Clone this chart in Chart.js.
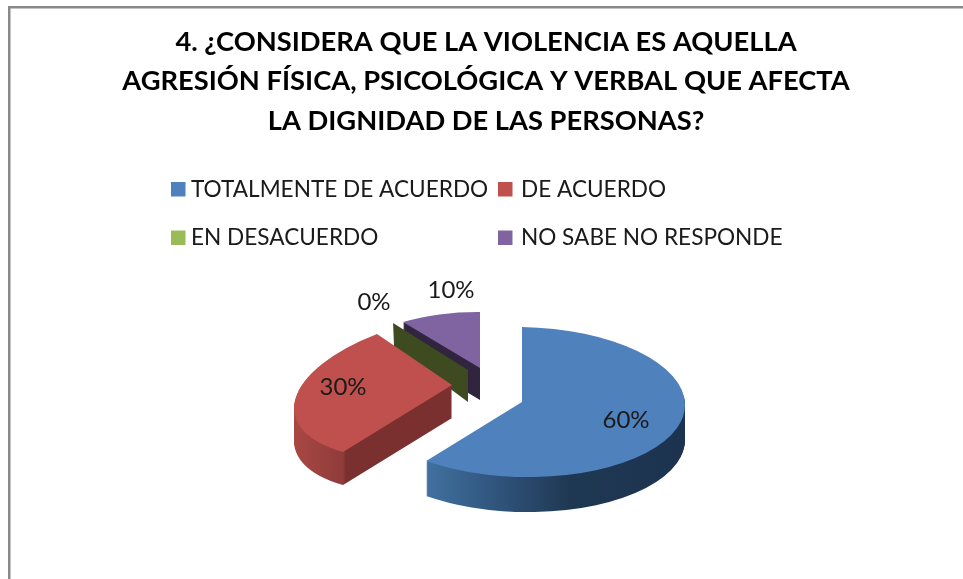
<!DOCTYPE html>
<html><head><meta charset="utf-8">
<style>html,body{margin:0;padding:0;background:#fff}canvas{display:block}</style>
<script src="https://cdn.jsdelivr.net/npm/chart.js@4"></script></head>
<body><canvas id="c" width="963" height="579"></canvas>
<script>
const titleLines = ['4. ¿CONSIDERA QUE LA VIOLENCIA ES AQUELLA','AGRESIÓN FÍSICA, PSICOLÓGICA Y VERBAL QUE AFECTA','LA DIGNIDAD DE LAS PERSONAS?'];
const categories = ['TOTALMENTE DE ACUERDO','DE ACUERDO','EN DESACUERDO','NO SABE NO RESPONDE'];
const values = [60,30,0,10];
const colors = ['#4F81BD','#C0504D','#9BBB59','#8064A2'];

const FONT = 'Lato';
const R = 100;
// 3D look of each slice: where its apex lands and how its circle is flattened.
const apex = [[522,402],[452,385],[468,370],[480,368]];
const flatten = [[163,3,0,75],[156.5,-13.6,-21,72.9],[127.5,0,0,58],[131,1,0,56]];
const depth = [35,33,32,32];
const wallStops = [
  [[428,'#41709f'],[500,'#2f537b'],[570,'#1f3852'],[690,'#1c3350']],
  [[296,'#a84744'],[343,'#8f3c3a'],[346,'#7a302e'],[460,'#7a302e']],
  [[380,'#3e4a20'],[480,'#3e4a20']],
  [[400,'#30243f'],[490,'#30243f']]
];
const drawOrder = [3,2,1,0];
const labelPos = [[626,420],[343,387],[374,302],[451,290]];
const legendSwatch = [[171,182],[498,182],[171,230.5],[498,230.5]];
const legendTextX = [191,521,191,521];

function place(ctx, i, el, dy){
  const [a,b,c,d] = flatten[i].map(v=>v/R);
  const [ax,ay] = apex[i];
  ctx.translate(0,dy);
  ctx.transform(a,b,c,d,ax-(a*el.x+c*el.y),ay-(b*el.x+d*el.y));
}
function wallFill(ctx, i, el){
  // gradient whose colour bands stay vertical on screen after flattening
  const stops = wallStops[i];
  const x0 = stops[0][0], x1 = stops[stops.length-1][0];
  const [a,,c] = flatten[i].map(v=>v/R);
  const n = a*a+c*c;
  const lx0 = el.x+(x0-apex[i][0])*a/n, ly0 = el.y+(x0-apex[i][0])*c/n;
  const lx1 = el.x+(x1-apex[i][0])*a/n, ly1 = el.y+(x1-apex[i][0])*c/n;
  const g = ctx.createLinearGradient(lx0,ly0,lx1,ly1);
  stops.forEach(s=>g.addColorStop((s[0]-x0)/(x1-x0),s[1]));
  return g;
}
function paint(ctx, el, fill){
  const saved = el.options;
  el.options = Object.assign({}, saved, {backgroundColor:fill,borderWidth:0,offset:0,spacing:0});
  el.draw(ctx);
  el.options = saved;
}
const pie3d = {
  id:'pie3d',
  beforeDraw(chart){
    const ctx = chart.ctx;
    ctx.save();
    ctx.fillStyle='#fff';ctx.fillRect(0,0,chart.width,chart.height);
    ctx.fillStyle='#898989';
    ctx.fillRect(8,6,chart.width-8,2.5);
    ctx.fillRect(8,6,2.5,chart.height-6);
    ctx.restore();
  },
  beforeDatasetsDraw(chart){
    const ctx = chart.ctx, arcs = chart.getDatasetMeta(0).data;
    drawOrder.forEach(i=>{
      const el = arcs[i];
      if(values[i]===0){
        // an empty slice still shows its cut face
        ctx.save();
        const sx = el.x+el.outerRadius*Math.cos(el.startAngle), sy = el.y+el.outerRadius*Math.sin(el.startAngle);
        place(ctx,i,el,0);
        const m = ctx.getTransform();
        ctx.restore();
        const p = m.transformPoint({x:sx,y:sy}), o = m.transformPoint({x:el.x,y:el.y});
        ctx.save();
        ctx.fillStyle = wallStops[i][0][1];
        ctx.beginPath();
        ctx.moveTo(p.x,p.y);ctx.lineTo(o.x,o.y);ctx.lineTo(o.x,o.y+depth[i]);ctx.lineTo(p.x+1,p.y+depth[i]-8);
        ctx.closePath();ctx.fill();
        ctx.restore();
        return;
      }
      for(let dy=depth[i];dy>=1;dy--){
        ctx.save();
        place(ctx,i,el,dy);
        paint(ctx,el,wallFill(ctx,i,el));
        ctx.restore();
      }
      ctx.save();
      place(ctx,i,el,0);
      paint(ctx,el,colors[i]);
      ctx.restore();
    });
    return false;
  },
  afterDraw(chart){
    const ctx = chart.ctx;
    ctx.save();
    ctx.textBaseline='middle';
    ctx.fillStyle='#1a1a1a';
    ctx.textAlign='center';
    ctx.font='24px '+FONT;
    values.forEach((v,i)=>ctx.fillText(v+'%',labelPos[i][0],labelPos[i][1]));
    ctx.textAlign='left';
    ctx.font='22.6px '+FONT;
    categories.forEach((t,i)=>{
      const [x,y]=legendSwatch[i];
      ctx.fillStyle=colors[i];ctx.fillRect(x,y,14.5,14.5);
      ctx.fillStyle='#1a1a1a';ctx.fillText(t,legendTextX[i],y+7.5);
    });
    ctx.restore();
  }
};
new Chart(document.getElementById('c'),{
  type:'pie',
  data:{labels:categories,datasets:[{data:values,backgroundColor:colors,borderWidth:0,radius:R}]},
  plugins:[pie3d],
  options:{
    responsive:false,animation:false,
    layout:{padding:{left:10,right:1,top:0,bottom:0}},
    plugins:{
      legend:{display:false},tooltip:{enabled:false},
      title:{display:true,text:titleLines,color:'#000',font:{family:FONT,size:27.3,weight:'bold',lineHeight:1.45},padding:{top:22,bottom:10}}
    }
  }
});
</script></body></html>
